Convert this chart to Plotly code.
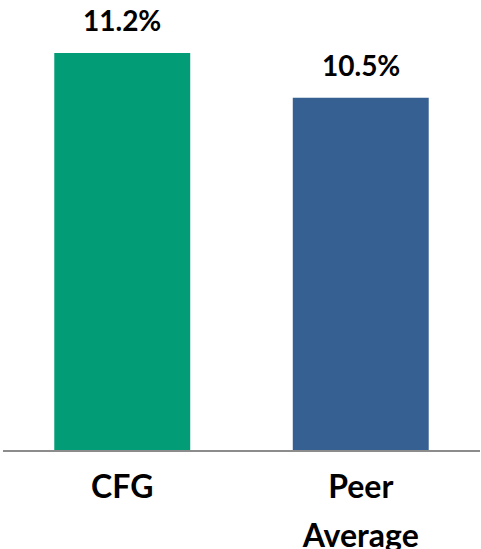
import plotly.graph_objects as go

categories = ["CFG", "Peer<br>Average"]
values = [11.2, 10.5]
value_labels = ["11.2%", "10.5%"]
colors = ["#029C77", "#376092"]

fig = go.Figure()
fig.add_trace(go.Bar(
    x=[0, 1], y=values, width=0.57,
    marker=dict(color=colors, line=dict(width=0)),
    hoverinfo="skip",
))

for i, (v, t) in enumerate(zip(values, value_labels)):
    fig.add_annotation(x=i, y=v, text=f"<b>{t}</b>", showarrow=False, yanchor="bottom",
                       yshift=14, font=dict(family="Lato", size=28, color="black"))


def fmt(c):
    parts = c.split("<br>")
    return "<br>".join(f"<b><span style='font-size:32px'>{p}</span></b>" for p in parts)


fig.update_layout(
    width=481, height=549,
    margin=dict(l=3, r=1, t=0, b=99, autoexpand=False),
    paper_bgcolor="white", plot_bgcolor="white",
    showlegend=False,
    xaxis=dict(range=[-0.5, 1.5], tickvals=[0, 1], ticktext=[fmt(c) for c in categories],
               showline=True, linecolor="#8C8C8C", linewidth=2, showgrid=False, zeroline=False,
               ticks="", tickfont=dict(family="Lato", size=37, color="black"),
               ticklabelstandoff=2, automargin=False),
    yaxis=dict(range=[5, 5 + 450 / 64.03], visible=False, showgrid=False, zeroline=False,
               automargin=False),
)

fig.write_html("out.html")
